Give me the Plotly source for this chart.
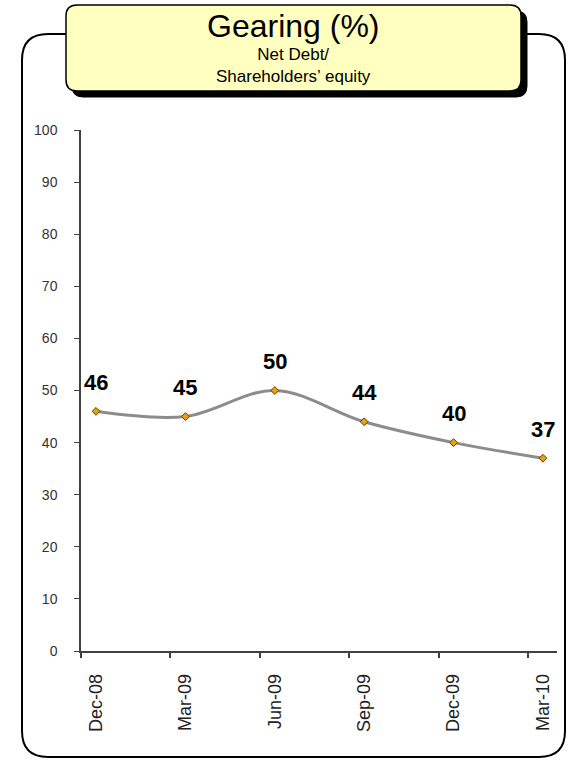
import plotly.graph_objects as go

categories = ["Dec-08", "Mar-09", "Jun-09", "Sep-09", "Dec-09", "Mar-10"]
gearing = [46, 45, 50, 44, 40, 37]
y_ticks = [0, 10, 20, 30, 40, 50, 60, 70, 80, 90, 100]

W, H = 570, 761
L, R, T, B = 81, 13, 130, 110
PW, PH = W - L - R, H - T - B

def px(x):
    return (x - L) / PW

def py(y):
    return (H - B - y) / PH

def rrect(x0, y0, x1, y1, r):
    return (f"M {px(x0+r)},{py(y0)} L {px(x1-r)},{py(y0)} Q {px(x1)},{py(y0)} {px(x1)},{py(y0+r)} "
            f"L {px(x1)},{py(y1-r)} Q {px(x1)},{py(y1)} {px(x1-r)},{py(y1)} "
            f"L {px(x0+r)},{py(y1)} Q {px(x0)},{py(y1)} {px(x0)},{py(y1-r)} "
            f"L {px(x0)},{py(y0+r)} Q {px(x0)},{py(y0)} {px(x0+r)},{py(y0)} Z")

xs = list(range(len(categories)))
offset = 0.168
xr = [-offset, len(categories) - 1 + 0.157]

fig = go.Figure()
fig.add_trace(go.Scatter(
    x=xs, y=gearing, mode="lines+markers",
    line=dict(color="#8c8c8c", width=3, shape="spline", smoothing=1.0),
    marker=dict(symbol="diamond", size=6, color="#e8a010", line=dict(color="#5a4000", width=1)),
    hoverinfo="skip", showlegend=False,
))
# invisible trace to activate xaxis2 (tick marks)
fig.add_trace(go.Scatter(x=[xs[0]], y=[gearing[0]], xaxis="x2", mode="markers",
                         marker=dict(opacity=0), showlegend=False, hoverinfo="skip"))

for x, v in zip(xs, gearing):
    fig.add_annotation(x=x, y=v, text=f"<b>{v}</b>", showarrow=False, yshift=29,
                       font=dict(family="Liberation Sans, Arial", size=22, color="#000000"))

shapes = [
    dict(type="path", xref="paper", yref="paper", path=rrect(22, 34, 565, 757, 26),
         line=dict(color="#000000", width=2), fillcolor="rgba(0,0,0,0)", layer="below"),
    dict(type="path", xref="paper", yref="paper", path=rrect(72, 11, 527, 97, 11),
         line=dict(color="#000000", width=1), fillcolor="#000000", layer="above"),
    dict(type="path", xref="paper", yref="paper", path=rrect(66, 5, 521, 91, 11),
         line=dict(color="#000000", width=1.5), fillcolor="#ffffc0", layer="above"),
]

title_font = "Liberation Sans, Arial"
fig.add_annotation(xref="paper", yref="paper", x=px(293), y=py(26), text="Gearing (%)",
                   showarrow=False, xanchor="center", yanchor="middle",
                   font=dict(family=title_font, size=32, color="#000000"))
fig.add_annotation(xref="paper", yref="paper", x=px(293), y=py(65),
                   text="Net Debt/<br>Shareholders’ equity",
                   showarrow=False, xanchor="center", yanchor="middle", align="center",
                   font=dict(family=title_font, size=17, color="#000000"))

fig.update_layout(
    width=W, height=H,
    margin=dict(l=L, r=R, t=T, b=B),
    paper_bgcolor="#ffffff", plot_bgcolor="#ffffff",
    shapes=shapes,
    xaxis=dict(range=xr, tickmode="array", tickvals=xs, ticktext=categories,
               tickangle=-90, ticks="", showgrid=False, zeroline=False,
               showline=True, linecolor="#404040", linewidth=1.5,
               ticklabelstandoff=14,
               tickfont=dict(family="Liberation Sans, Arial", size=18, color="#222222")),
    xaxis2=dict(range=xr, overlaying="x", side="bottom", anchor="y", tickmode="array",
                tickvals=[x - offset for x in xs], ticks="outside", ticklen=6,
                tickcolor="#404040", tickwidth=1.5, showticklabels=False,
                showgrid=False, zeroline=False, showline=False),
    yaxis=dict(range=[0, 100], tickmode="array", tickvals=y_ticks, ticks="outside",
               ticklen=5, tickcolor="#404040", showgrid=False, zeroline=False,
               showline=True, linecolor="#404040", linewidth=1.5, ticklabelstandoff=14,
               tickfont=dict(family="Liberation Sans, Arial", size=14, color="#333333")),
)

fig.write_html("out.html")
